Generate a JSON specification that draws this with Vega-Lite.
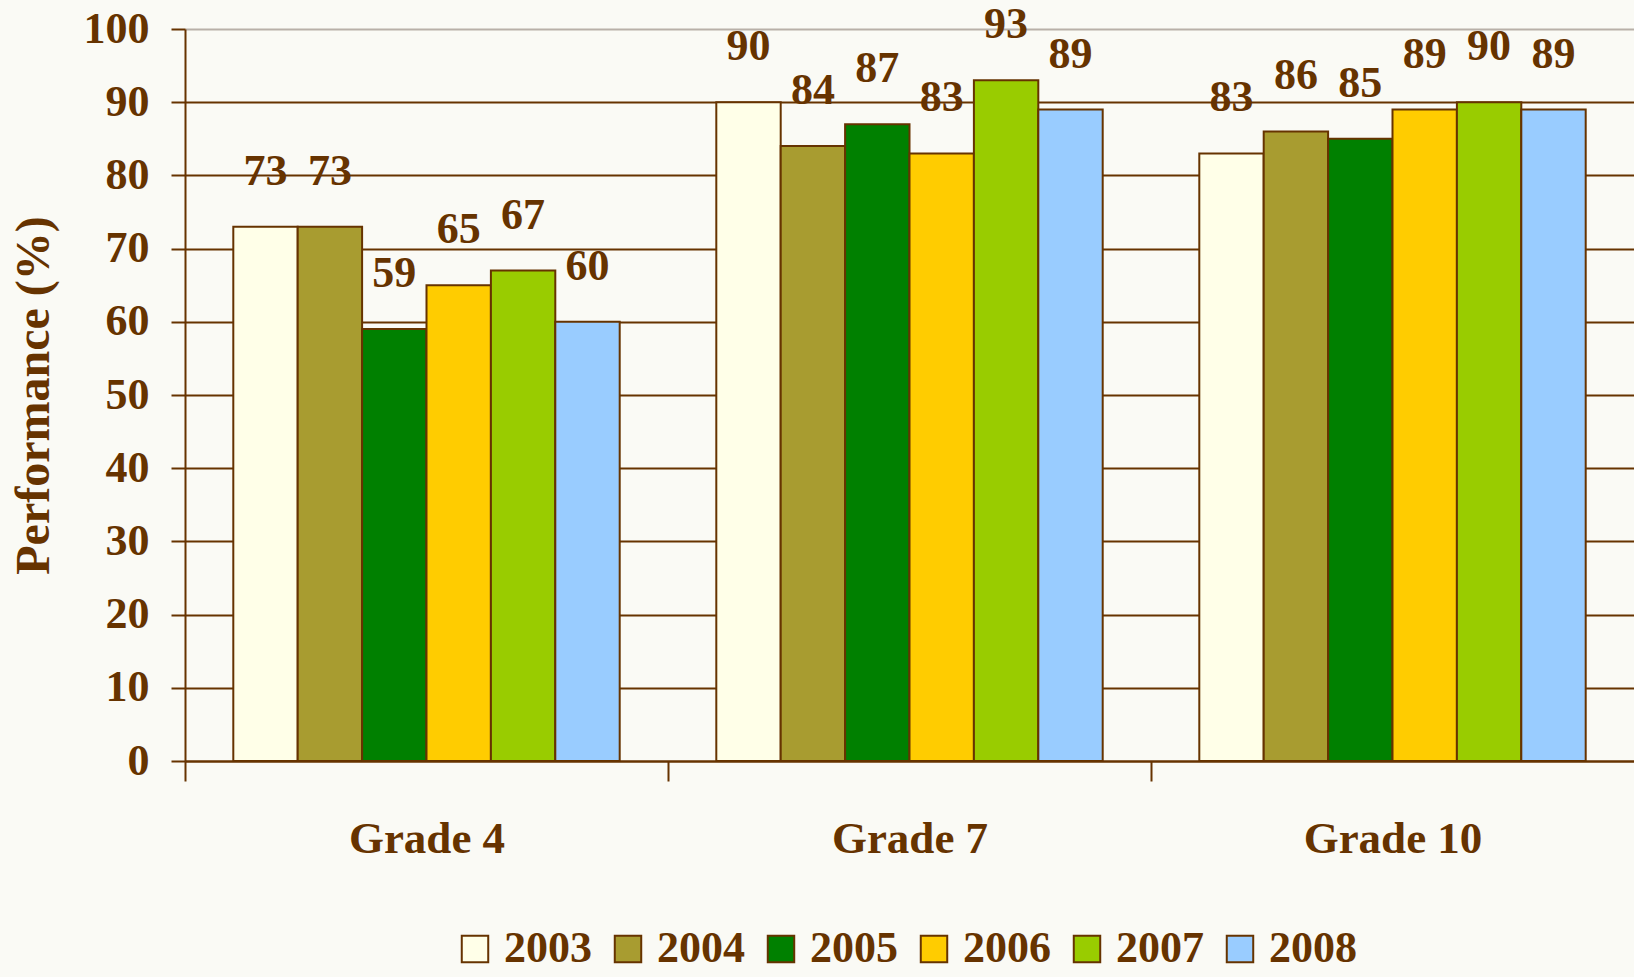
{
  "$schema": "https://vega.github.io/schema/vega-lite/v6.json",
  "width": 1449,
  "height": 732,
  "autosize": "none",
  "padding": {"left": 185, "top": 29, "right": 0, "bottom": 216},
  "background": "#fafaf5",
  "config": {
    "view": {"stroke": null},
    "font": "Liberation Serif",
    "axis": {"labelFont": "Liberation Serif", "titleFont": "Liberation Serif"}
  },
  "data": {
    "values": [
      {"grade": "Grade 4", "year": "2003", "value": 73},
      {"grade": "Grade 4", "year": "2004", "value": 73},
      {"grade": "Grade 4", "year": "2005", "value": 59},
      {"grade": "Grade 4", "year": "2006", "value": 65},
      {"grade": "Grade 4", "year": "2007", "value": 67},
      {"grade": "Grade 4", "year": "2008", "value": 60},
      {"grade": "Grade 7", "year": "2003", "value": 90},
      {"grade": "Grade 7", "year": "2004", "value": 84},
      {"grade": "Grade 7", "year": "2005", "value": 87},
      {"grade": "Grade 7", "year": "2006", "value": 83},
      {"grade": "Grade 7", "year": "2007", "value": 93},
      {"grade": "Grade 7", "year": "2008", "value": 89},
      {"grade": "Grade 10", "year": "2003", "value": 83},
      {"grade": "Grade 10", "year": "2004", "value": 86},
      {"grade": "Grade 10", "year": "2005", "value": 85},
      {"grade": "Grade 10", "year": "2006", "value": 89},
      {"grade": "Grade 10", "year": "2007", "value": 90},
      {"grade": "Grade 10", "year": "2008", "value": 89}
    ]
  },
  "encoding": {
    "x": {
      "field": "grade",
      "type": "nominal",
      "sort": ["Grade 4", "Grade 7", "Grade 10"],
      "scale": {"paddingInner": 0.2, "paddingOuter": 0.1},
      "axis": {
        "title": null,
        "labelAngle": 0,
        "labelFontSize": 45,
        "labelFontWeight": "bold",
        "labelColor": "#663300",
        "labelPadding": 57,
        "labelBaseline": "middle",
        "tickOffset": -242,
        "labelOffset": 242,
        "tickSize": 20,
        "tickWidth": 2,
        "tickColor": "#663300",
        "domainColor": "#663300",
        "domainWidth": 2,
        "grid": false
      }
    },
    "xOffset": {"field": "year", "type": "nominal", "scale": {"paddingInner": 0, "paddingOuter": 0}},
    "y": {
      "field": "value",
      "type": "quantitative",
      "scale": {"domain": [0, 100]},
      "axis": {
        "title": "Performance (%)",
        "titleFontSize": 48,
        "titleFontWeight": "bold",
        "titleColor": "#663300",
        "titlePadding": 25,
        "values": [0, 10, 20, 30, 40, 50, 60, 70, 80, 90, 100],
        "labelFontSize": 44,
        "labelFontWeight": "bold",
        "labelColor": "#663300",
        "labelPadding": 22,
        "tickSize": 14,
        "tickWidth": 2,
        "tickColor": "#663300",
        "domainColor": "#663300",
        "domainWidth": 2,
        "grid": true,
        "gridColor": {"condition": {"test": "datum.value === 100", "value": "#b8b0a8"}, "value": "#663300"},
        "gridWidth": 2
      }
    }
  },
  "layer": [
    {
      "mark": {"type": "bar", "stroke": "#663300", "strokeWidth": 2},
      "encoding": {
        "color": {
          "field": "year",
          "type": "nominal",
          "scale": {
            "domain": ["2003", "2004", "2005", "2006", "2007", "2008"],
            "range": ["#ffffe8", "#a89c30", "#008000", "#ffcc00", "#99cc00", "#99ccff"]
          },
          "legend": {
            "title": null,
            "orient": "none",
            "legendX": 268,
            "legendY": 898,
            "direction": "horizontal",
            "symbolType": "square",
            "symbolSize": 700,
            "symbolStrokeColor": "#663300",
            "symbolStrokeWidth": 2,
            "labelFontSize": 44,
            "labelFontWeight": "bold",
            "labelColor": "#663300",
            "labelFont": "Liberation Serif",
            "columnPadding": 14,
            "labelOffset": 7
          }
        }
      }
    },
    {
      "mark": {"type": "text", "baseline": "alphabetic", "dy": -42, "fontSize": 44, "fontWeight": "bold", "color": "#663300"},
      "encoding": {"text": {"field": "value", "type": "quantitative"}}
    }
  ]
}
